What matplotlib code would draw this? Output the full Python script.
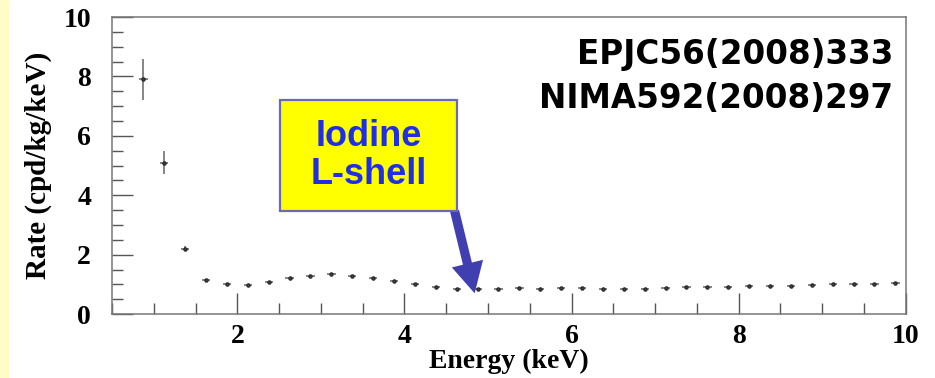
import matplotlib.pyplot as plt
from matplotlib.ticker import MultipleLocator
from matplotlib.patches import Rectangle

# energy spectrum, 0.25 keV bins
energia = [0.875, 1.125, 1.375, 1.625, 1.875, 2.125, 2.375, 2.625, 2.875, 3.125,
           3.375, 3.625, 3.875, 4.125, 4.375, 4.625, 4.875, 5.125, 5.375, 5.625,
           5.875, 6.125, 6.375, 6.625, 6.875, 7.125, 7.375, 7.625, 7.875, 8.125,
           8.375, 8.625, 8.875, 9.125, 9.375, 9.625, 9.875]
rate = [7.9, 5.1, 2.2, 1.16, 1.01, 0.99, 1.08, 1.20, 1.28, 1.34,
        1.28, 1.20, 1.11, 1.01, 0.92, 0.86, 0.86, 0.84, 0.89, 0.84,
        0.89, 0.89, 0.86, 0.86, 0.86, 0.89, 0.90, 0.92, 0.92, 0.94,
        0.94, 0.95, 0.98, 1.00, 1.00, 1.01, 1.05]
blad = [0.7, 0.38, 0.08] + [0.03] * 34

plt.rcParams['font.family'] = 'Liberation Serif'
plt.rcParams['font.weight'] = 'bold'
plt.rcParams['axes.labelweight'] = 'bold'

fig = plt.figure(figsize=(9.35, 3.78), dpi=100)
fig.patches.append(Rectangle((0, 0), 0.009, 1, transform=fig.transFigure,
                             color='#fffcc8', zorder=0))
ax = fig.add_axes([0.1198, 0.169, 0.849, 0.786])

ax.errorbar(energia, rate, yerr=blad, xerr=0.05, fmt='o', ms=2.4,
            mfc='#444444', mec='#222222', mew=0.8, ecolor='#666666',
            elinewidth=1.1, capsize=0)

ax.set_xlim(0.5, 10)
ax.set_ylim(0, 10)
ax.xaxis.set_major_locator(MultipleLocator(2))
ax.xaxis.set_minor_locator(MultipleLocator(0.5))
ax.yaxis.set_major_locator(MultipleLocator(2))
ax.yaxis.set_minor_locator(MultipleLocator(0.5))
ax.tick_params(which='both', direction='in', top=False, right=False,
               color='#555555', width=1, labelsize=20)
ax.tick_params(which='major', length=15)
ax.tick_params(which='minor', length=8)
ax.tick_params(axis='y', which='major', pad=15)
ax.tick_params(axis='x', which='major', pad=7)
for s in ax.spines.values():
    s.set_color('#777777')
    s.set_linewidth(1.1)

ax.set_xlabel('Energy (keV)', size=20, labelpad=0)
ax.set_ylabel('Rate (cpd/kg/keV)', size=21, labelpad=8)

ax.text(0.984, 0.80, 'EPJC56(2008)333\nNIMA592(2008)297', transform=ax.transAxes,
        ha='right', va='center', family='DejaVu Sans', weight='bold',
        size=23.5, linespacing=1.42)

# yellow label box with the arrow pointing at the L-shell region
ax.add_patch(Rectangle((2.51, 3.47), 2.12, 3.73, fc='#ffff00', ec='#6a6ab0',
                       lw=1.6, zorder=3))
ax.text(3.57, 5.33, 'Iodine\nL-shell', ha='center', va='center',
        family='Liberation Sans', weight='bold', size=26, color='#1f2fe8',
        linespacing=1.12, zorder=4)
ax.annotate('', xy=(4.84, 0.7), xytext=(4.6, 3.47),
            arrowprops=dict(arrowstyle='simple,head_width=1.05,head_length=1.0,tail_width=0.3',
                            mutation_scale=22, color='#3f3fb0', lw=0,
                            shrinkA=0, shrinkB=0), zorder=2)

fig.savefig('out.png', dpi=100)
